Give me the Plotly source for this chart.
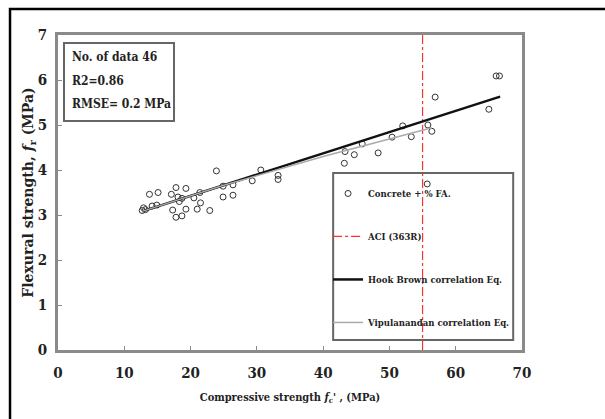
import plotly.graph_objects as go

# Measured specimens: compressive vs flexural strength (MPa)
fc_data = [12.7, 12.9, 13.2, 13.8, 14.2, 14.9, 15.1, 17.1, 17.3, 17.8,
           17.8, 18.1, 18.3, 18.7, 18.7, 19.3, 19.3, 20.5, 21.0, 21.4,
           21.5, 22.9, 23.9, 24.9, 24.9, 26.4, 26.4, 29.3, 30.6, 33.2,
           33.2, 43.2, 43.3, 44.7, 45.9, 48.3, 50.4, 52.0, 53.3, 55.7,
           55.8, 56.4, 56.9, 65.0, 66.1, 66.6]
fr_data = [3.10, 3.16, 3.12, 3.46, 3.20, 3.22, 3.50, 3.46, 3.11, 3.61,
           2.95, 3.40, 3.30, 2.98, 3.37, 3.59, 3.13, 3.38, 3.13, 3.50,
           3.27, 3.10, 3.98, 3.64, 3.40, 3.67, 3.44, 3.76, 4.00, 3.88,
           3.79, 4.15, 4.41, 4.34, 4.58, 4.38, 4.73, 4.98, 4.74, 3.69,
           5.00, 4.86, 5.62, 5.35, 6.09, 6.09]

# ACI 363R limit
aci_x = [55, 55]
aci_y = [0, 7]

# Correlation curves
hb_x = [12.7, 66.7]
hb_y = [3.08, 5.63]
vip_x = [12.7, 25.0, 40.0, 56.4]
vip_y = [3.08, 3.66, 4.30, 4.94]

stats_lines = ["No. of data 46", "R2=0.86", "RMSE= 0.2 MPa"]

x_ticks = [0, 10, 20, 30, 40, 50, 60, 70]
y_ticks = [0, 1, 2, 3, 4, 5, 6, 7]

serif = "DejaVu Serif Condensed, DejaVu Serif"
serif_wide = "DejaVu Serif"
ink = "#222222"

fig = go.Figure()
fig.add_trace(go.Scatter(
    x=fc_data, y=fr_data, mode="markers", name="<b>Concrete + % FA.</b>",
    legendgroup="a",
    marker=dict(symbol="circle-open", size=6, color="#333333",
                line=dict(width=1, color="#333333"))))
fig.add_trace(go.Scatter(
    x=aci_x, y=aci_y, mode="lines", name="<b>ACI (363R)</b>", legendgroup="b",
    line=dict(color="#ff3030", width=1.2, dash="dashdot")))
fig.add_trace(go.Scatter(
    x=hb_x, y=hb_y, mode="lines", name="<b>Hook Brown correlation Eq.</b>",
    legendgroup="c", line=dict(color="#111111", width=2.5)))
fig.add_trace(go.Scatter(
    x=vip_x, y=vip_y, mode="lines", name="<b>Vipulanandan correlation Eq.</b>",
    legendgroup="d", line=dict(color="#aaaaaa", width=1.5)))

axis_common = dict(
    showgrid=False, zeroline=False, showline=True, mirror=True,
    linecolor="#8a8a8a", linewidth=2.5, ticks="inside", ticklen=4,
    tickcolor="#8a8a8a",
    tickfont=dict(family=serif, size=15, color=ink, weight="bold"),
)

fig.update_layout(
    width=605, height=419,
    margin=dict(l=58, r=83, t=35, b=69),
    paper_bgcolor="white", plot_bgcolor="white",
    showlegend=True,
    legend=dict(
        x=0.582, y=0.543, xanchor="left", yanchor="top",
        borderwidth=0, bgcolor="rgba(0,0,0,0)",
        font=dict(family=serif, size=9.5, color=ink),
        tracegroupgap=24, itemwidth=30,
    ),
    xaxis=dict(range=[0, 70], tickvals=x_ticks, ticklabelstandoff=7,
               title=dict(text="<b>Compressive strength <i>f</i><sub>c</sub>' , (MPa)</b>",
                          font=dict(family=serif, size=11, color=ink),
                          standoff=13),
               **axis_common),
    yaxis=dict(range=[0, 7], tickvals=y_ticks, ticklabelstandoff=5,
               title=dict(text="<b>Flexural strength, <i>f</i><sub>r</sub> (MPa)</b>",
                          font=dict(family=serif_wide, size=14, color=ink),
                          standoff=0),
               **axis_common),
)

# Legend frame
fig.add_shape(type="rect", xref="paper", yref="paper",
              x0=0.593, x1=0.981, y0=0.032, y1=0.562,
              line=dict(color="#666666", width=2))

# Statistics box
fig.add_shape(type="rect", xref="paper", yref="paper",
              x0=0.0129, x1=0.25, y0=0.727, y1=0.9746,
              line=dict(color="#666666", width=2), fillcolor="white")
for i, line in enumerate(stats_lines):
    fig.add_annotation(xref="paper", yref="paper", x=0.026,
                       y=0.93 - i * 0.075, xanchor="left", yanchor="middle",
                       text="<b>" + line + "</b>", showarrow=False,
                       font=dict(family=serif, size=12, color=ink))

# Outer frame
fig.add_shape(type="rect", xref="paper", yref="paper",
              x0=-0.1034, x1=1.2, y0=-0.4, y1=1.0825,
              line=dict(color="black", width=2.5), layer="below")

fig.write_html("out.html")
